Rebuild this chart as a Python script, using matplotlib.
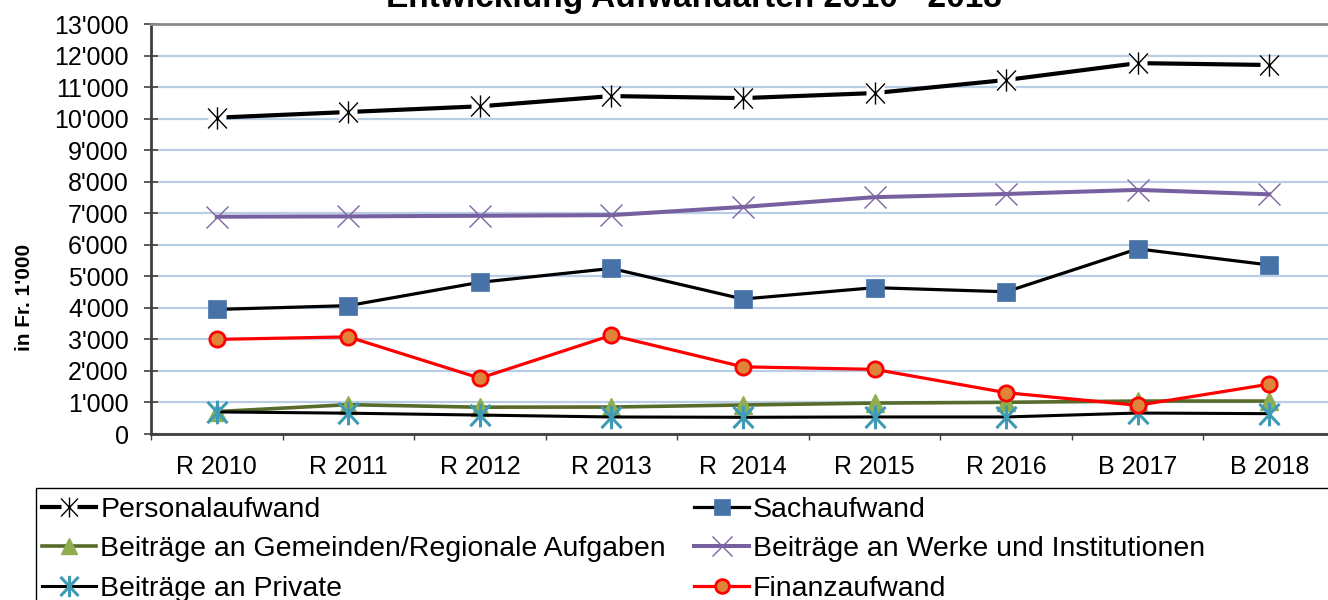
import matplotlib
matplotlib.use('Agg')
import matplotlib.pyplot as plt
from matplotlib.path import Path
from matplotlib.ticker import FuncFormatter
from matplotlib.patches import Rectangle
from matplotlib.legend_handler import HandlerTuple
import numpy as np

plt.rcParams['font.family'] = ['Liberation Sans', 'DejaVu Sans']

# ---------------- data ----------------
categories = ['R 2010', 'R 2011', 'R 2012', 'R 2013', 'R  2014', 'R 2015', 'R 2016', 'B 2017', 'B 2018']
personal = [10030, 10210, 10390, 10715, 10650, 10810, 11225, 11760, 11700]
sach = [3950, 4070, 4810, 5250, 4280, 4640, 4510, 5870, 5360]
gemeinden = [710, 930, 850, 855, 920, 980, 1005, 1045, 1045]
werke = [6890, 6900, 6920, 6940, 7200, 7510, 7610, 7740, 7600]
private = [700, 660, 600, 540, 530, 540, 540, 665, 645]
finanz = [3000, 3080, 1770, 3130, 2130, 2050, 1310, 910, 1580]
yticks = list(range(0, 13001, 1000))

labels = ['Personalaufwand', 'Sachaufwand',
          'Beiträge an Gemeinden/Regionale Aufgaben', 'Beiträge an Werke und Institutionen',
          'Beiträge an Private', 'Finanzaufwand']
title = 'Entwicklung Aufwandarten 2010 - 2018'
ylabel = "in Fr. 1'000"

# ---------------- figure ----------------
W, H = 1328, 600
fig = plt.figure(figsize=(W / 100, H / 100), dpi=100)
ax = fig.add_axes([151 / W, 1 - 434 / H, (1335 - 151) / W, 410 / H])

x = np.arange(len(categories))
ax.set_xlim(-0.5, len(categories) - 0.5)
ax.set_ylim(0, 13000)

star = Path([(0, -1), (0, 1), (-0.85, -0.9), (0.85, 0.9), (-0.85, 0.9), (0.85, -0.9)],
            [Path.MOVETO, Path.LINETO, Path.MOVETO, Path.LINETO, Path.MOVETO, Path.LINETO])

# Personalaufwand
l_pers, = ax.plot(x, personal, color='black', lw=3.0, zorder=3)
w_pers, = ax.plot(x, personal, ls='none', marker='s', ms=13, mfc='white', mec='none', zorder=3.1)
m_pers, = ax.plot(x, personal, ls='none', marker=star, ms=16, mfc='none', mec='black', mew=1.0, zorder=3.2)

# Sachaufwand
h_sach, = ax.plot(x, sach, color='black', lw=2.3, marker='s', ms=12.5,
                  mfc='#4672A8', mec='#4672A8', mew=0.5, zorder=4)

# Gemeinden
h_gem, = ax.plot(x, gemeinden, color='#576B2B', lw=2.6, marker='^', ms=13,
                 mfc='#8FAE4E', mec='#8FAE4E', zorder=5)

# Werke
h_werke, = ax.plot(x, werke, color='#7660A0', lw=2.9, marker='x', ms=16,
                   mec='#8064A2', mew=1.0, zorder=6)

# Private
h_priv, = ax.plot(x, private, color='black', lw=2.2, marker=star, ms=17,
                  mfc='none', mec='#3F9BB5', mew=2.2, zorder=7)

# Finanz
h_fin, = ax.plot(x, finanz, color='#FF0000', lw=2.3, marker='o', ms=11,
                 mfc='#E0843C', mec='#FF0000', mew=2.0, zorder=8)

# ---------------- axes styling ----------------
ax.set_xticks(x)
ax.set_xticklabels(categories)
ax.set_xticks(np.arange(-0.5, len(categories), 1), minor=True)
ax.tick_params(axis='x', which='major', length=0, labelsize=18, pad=15)
ax.tick_params(axis='x', which='minor', direction='out', length=4.5, width=1.0, color='#404040')

ax.set_yticks(yticks)
ax.yaxis.set_major_formatter(FuncFormatter(lambda v, p: f"{int(v):,}".replace(',', "'")))
ax.tick_params(axis='y', direction='inout', length=10, width=1.2, color='#404040', labelsize=18, pad=11)

ax.yaxis.grid(True, color='#B9CDE5', lw=1.6)
ax.set_axisbelow(True)

for s in ['left', 'bottom']:
    ax.spines[s].set_color('#404040')
    ax.spines[s].set_linewidth(2)
ax.spines['top'].set_color('#8C8C8C')
ax.spines['top'].set_linewidth(2)
ax.spines['right'].set_visible(False)

ax.set_ylabel(ylabel, fontsize=15, fontweight='bold')
ax.yaxis.set_label_coords(-0.099, 0.334)

fig.text(694 / W, 1 - 7 / H, title, ha='center', va='baseline', fontsize=24, fontweight='bold')

# ---------------- legend ----------------
handles = [(l_pers, w_pers, m_pers), h_gem, h_priv, h_sach, h_werke, h_fin]
leg_labels = [labels[0], labels[2], labels[4], labels[1], labels[3], labels[5]]
leg = fig.legend(handles, leg_labels, ncol=2, loc='upper left',
                 bbox_to_anchor=(42 / W, 1 - 497 / H), bbox_transform=fig.transFigure,
                 frameon=False, fontsize=20.5, handlelength=1.9, handletextpad=0.15,
                 columnspacing=1.0, labelspacing=0.47, borderpad=0, borderaxespad=0,
                 numpoints=1, markerscale=0.9,
                 handler_map={tuple: HandlerTuple(ndivide=1, pad=0)})

fig.add_artist(Rectangle((36 / W, -0.05), 1.1, (1 - 488 / H) + 0.05,
                         transform=fig.transFigure, fill=False, ec='black', lw=1.0))

fig.savefig('out.png', dpi=100)
